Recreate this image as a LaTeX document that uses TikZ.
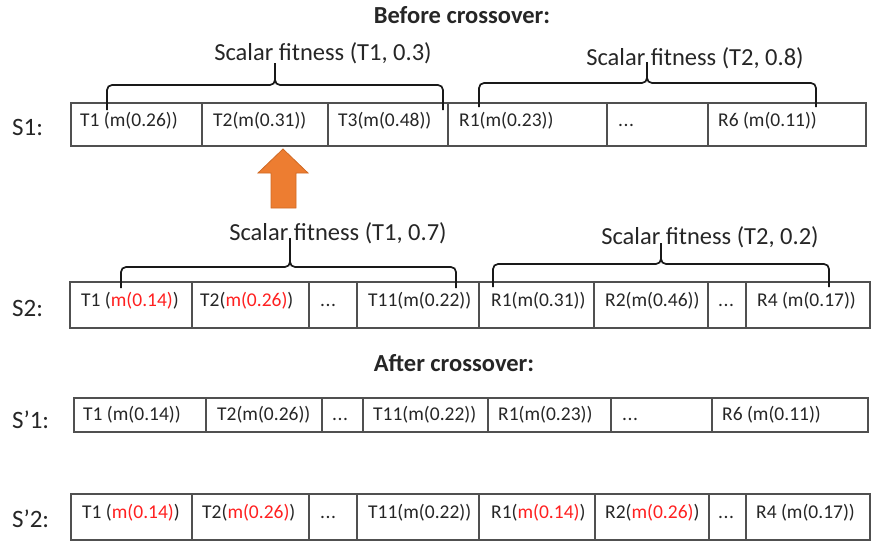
\documentclass[tikz,border=0pt]{standalone}
\usepackage{fontspec}
\setmainfont{Carlito}
\definecolor{ink}{HTML}{262626}
\definecolor{grid}{HTML}{505050}
\definecolor{hot}{HTML}{FF2020}
\definecolor{arrowfill}{HTML}{ED7D31}
\definecolor{arrowedge}{HTML}{D06A25}
\newcommand{\hl}[1]{\textcolor{hot}{#1}}
\newcommand{\gap}{\vphantom{()}.\kern0.5pt.\kern0.5pt.}
\tikzset{
  cell/.style={draw=grid, line width=1.3pt},
  gene/.style={anchor=west, inner sep=0pt, text=ink, font=\fontsize{19.5}{22}\selectfont},
  rowlabel/.style={anchor=west, inner sep=0pt, text=ink, font=\fontsize{25}{28}\selectfont},
  heading/.style={inner sep=0pt, text=ink, font=\fontsize{24.5}{28}\selectfont\bfseries},
  fitlabel/.style={inner sep=0pt, text=ink, font=\fontsize{24.5}{28}\selectfont},
  bracket/.style={draw=black!90, line width=1.7pt, rounded corners=5pt},
}
\begin{document}
\begin{tikzpicture}[x=1pt, y=-1pt]
\useasboundingbox (0,0) rectangle (873,541);

% headings
\node[heading] (before) at (462,15) {Before crossover:};
\node[heading] (after) at (454,363) {After crossover:};

% ---- S1 ----
\node[rowlabel] (lS1) at (12,127) {S1:};
\draw[cell] (71,103) rectangle (866,146);
\foreach \x in {202,328,448,607,708} \draw[cell] (\x,103) -- (\x,146);
\node[gene] (s1a) at (80,121) {T1 (m(0.26))};
\node[gene] (s1b) at (213,121) {T2(m(0.31))};
\node[gene] (s1c) at (338,121) {T3(m(0.48))};
\node[gene] (s1d) at (459,121) {R1(m(0.23))};
\node[gene] (s1e) at (618,121) {\gap};
\node[gene] (s1f) at (718,121) {R6 (m(0.11))};

% S1 brackets
\coordinate (b1l) at (107,110); \coordinate (b1r) at (443,110);
\coordinate (b1c) at (275,85);  \coordinate (b1t) at (275,63);
\draw[bracket] (b1l) |- (b1c) -- (b1t);
\draw[bracket] (b1r) |- (b1c) -- (b1t);
\node[fitlabel] (f1) at (323,53) {Scalar fitness (T1, 0.3)};

\coordinate (b2l) at (479,107); \coordinate (b2r) at (816,107);
\coordinate (b2c) at (647,83);  \coordinate (b2t) at (647,62);
\draw[bracket] (b2l) |- (b2c) -- (b2t);
\draw[bracket] (b2r) |- (b2c) -- (b2t);
\node[fitlabel] (f2) at (695,58) {Scalar fitness (T2, 0.8)};

% up arrow
\draw[fill=arrowfill, draw=arrowedge, line width=0.8pt]
  (283,149) -- (308,173) -- (296,173) -- (296,208) -- (271,208) -- (271,173) -- (258,173) -- cycle;

% ---- S2 ----
\node[rowlabel] (lS2) at (12,308) {S2:};
\draw[cell] (70,282) rectangle (870,328);
\foreach \x in {192,309,357,479,594,708,746} \draw[cell] (\x,282) -- (\x,328);
\node[gene] (s2a) at (81,301) {T1 (\hl{m(0.14)})};
\node[gene] (s2b) at (200,301) {T2(\hl{m(0.26)})};
\node[gene] (s2c) at (320,301) {\gap};
\node[gene] (s2d) at (368,301) {T11(m(0.22))};
\node[gene] (s2e) at (491,301) {R1(m(0.31))};
\node[gene] (s2f) at (605,301) {R2(m(0.46))};
\node[gene] (s2g) at (718,301) {\gap};
\node[gene] (s2h) at (757,301) {R4 (m(0.17))};

% S2 brackets
\coordinate (b3l) at (121,288); \coordinate (b3r) at (456,288);
\coordinate (b3c) at (290,267); \coordinate (b3t) at (290,238);
\draw[bracket] (b3l) |- (b3c) -- (b3t);
\draw[bracket] (b3r) |- (b3c) -- (b3t);
\node[fitlabel] (f3) at (338,233) {Scalar fitness (T1, 0.7)};

\coordinate (b4l) at (493,287); \coordinate (b4r) at (829,287);
\coordinate (b4c) at (661,264); \coordinate (b4t) at (661,243);
\draw[bracket] (b4l) |- (b4c) -- (b4t);
\draw[bracket] (b4r) |- (b4c) -- (b4t);
\node[fitlabel] (f4) at (710,237) {Scalar fitness (T2, 0.2)};

% ---- S'1 ----
\node[rowlabel] (lS1p) at (12,420) {S’1:};
\draw[cell] (74,398) rectangle (868,432);
\foreach \x in {206,322,363,488,611,712} \draw[cell] (\x,398) -- (\x,432);
\node[gene] (t1a) at (83,415) {T1 (m(0.14))};
\node[gene] (t1b) at (217,415) {T2(m(0.26))};
\node[gene] (t1c) at (332,415) {\gap};
\node[gene] (t1d) at (373,415) {T11(m(0.22))};
\node[gene] (t1e) at (498,415) {R1(m(0.23))};
\node[gene] (t1f) at (622,415) {\gap};
\node[gene] (t1g) at (722,415) {R6 (m(0.11))};

% ---- S'2 ----
\node[rowlabel] (lS2p) at (12,519) {S’2:};
\draw[cell] (71,494) rectangle (870,540);
\foreach \x in {192,309,357,479,595,709,746} \draw[cell] (\x,494) -- (\x,540);
\node[gene] (t2a) at (82,513) {T1 (\hl{m(0.14)})};
\node[gene] (t2b) at (202,513) {T2(\hl{m(0.26)})};
\node[gene] (t2c) at (320,513) {\gap};
\node[gene] (t2d) at (368,513) {T11(m(0.22))};
\node[gene] (t2e) at (491,513) {R1(\hl{m(0.14)})};
\node[gene] (t2f) at (605,513) {R2(\hl{m(0.26)})};
\node[gene] (t2g) at (718,513) {\gap};
\node[gene] (t2h) at (756,513) {R4 (m(0.17))};
\end{tikzpicture}
\end{document}
